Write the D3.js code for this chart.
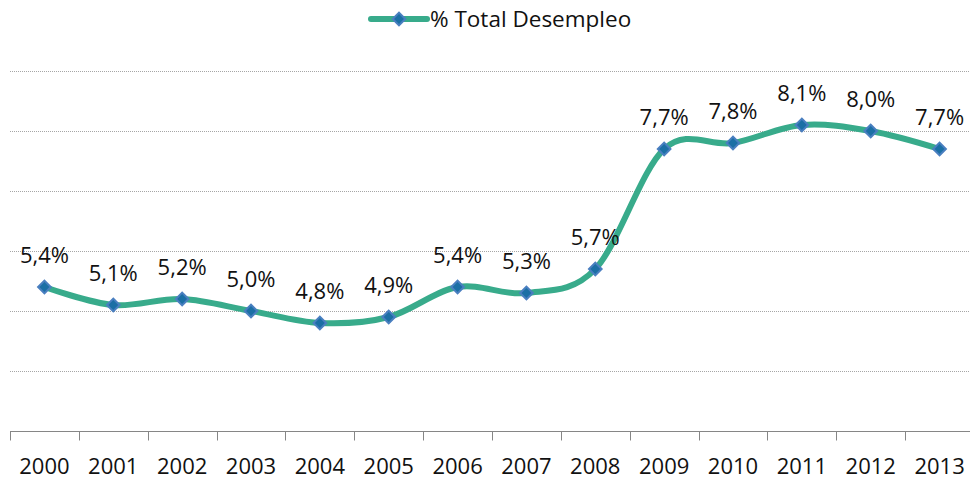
<!DOCTYPE html>
<html>
<head>
<meta charset="utf-8">
<script src="https://cdn.jsdelivr.net/npm/d3@7"></script>
<style>
  body { margin: 0; background: #fff; }
  text { font-family: "Open Sans", "Noto Sans", sans-serif; fill: #111; }
</style>
</head>
<body>
<div id="chart"></div>
<script>
const years = ['2000', '2001', '2002', '2003', '2004', '2005', '2006', '2007', '2008', '2009', '2010', '2011', '2012', '2013'];
const desempleo = [5.4, 5.1, 5.2, 5.0, 4.8, 4.9, 5.4, 5.3, 5.7, 7.7, 7.8, 8.1, 8.0, 7.7];
const gridTicks = [3, 4, 5, 6, 7, 8, 9];
const seriesName = '% Total Desempleo';

const width = 970, height = 479;
const margin = { top: 71, right: -4, bottom: 48, left: 10 };
const lineColor = '#38ab8b', markerFill = '#1b6fa5', markerStroke = '#4a7fc0';

const svg = d3.select('#chart').append('svg')
  .attr('width', width)
  .attr('height', height);

const x = d3.scaleBand()
  .domain(years)
  .range([margin.left, width - margin.right]);

const y = d3.scaleLinear()
  .domain([3, 9])
  .range([height - margin.bottom, margin.top]);

// gridlines
svg.append('g')
  .selectAll('line')
  .data(gridTicks.filter(d => d > 3))
  .enter().append('line')
  .attr('x1', margin.left)
  .attr('x2', width)
  .attr('y1', d => Math.round(y(d)) + 0.5)
  .attr('y2', d => Math.round(y(d)) + 0.5)
  .attr('stroke', '#a6a6a6')
  .attr('stroke-width', 1)
  .attr('stroke-dasharray', '1,1');

// x axis
const xAxis = svg.append('g')
  .attr('transform', `translate(0,${Math.round(y(3)) + 0.5})`);
xAxis.append('line')
  .attr('x1', margin.left).attr('x2', width)
  .attr('stroke', '#868686');
xAxis.selectAll('.tick')
  .data(years)
  .enter().append('line')
  .attr('x1', d => Math.round(x(d)) + 0.5)
  .attr('x2', d => Math.round(x(d)) + 0.5)
  .attr('y1', 0).attr('y2', 9)
  .attr('stroke', '#868686');
xAxis.selectAll('text')
  .data(years)
  .enter().append('text')
  .attr('x', d => x(d) + x.bandwidth() / 2)
  .attr('y', 42)
  .attr('text-anchor', 'middle')
  .style('font-size', '22px')
  .text(d => d);

const data = years.map((yr, i) => ({ year: yr, value: desempleo[i] }));
const cx = d => x(d.year) + x.bandwidth() / 2;

const line = d3.line()
  .x(cx)
  .y(d => y(d.value))
  .curve(d3.curveCardinal.tension(0));

svg.append('path')
  .datum(data)
  .attr('fill', 'none')
  .attr('stroke', lineColor)
  .attr('stroke-width', 6)
  .attr('stroke-linecap', 'round')
  .attr('d', line);

const diamond = d3.symbol().type(d3.symbolSquare).size(80);

svg.selectAll('.dot')
  .data(data)
  .enter().append('path')
  .attr('class', 'dot')
  .attr('transform', d => `translate(${cx(d)},${y(d.value)}) rotate(45)`)
  .attr('d', diamond)
  .attr('fill', markerFill)
  .attr('stroke', markerStroke)
  .attr('stroke-width', 2);

const fmt = v => v.toFixed(1).replace('.', ',') + '%';

svg.selectAll('.lbl')
  .data(data)
  .enter().append('text')
  .attr('class', 'lbl')
  .attr('x', cx)
  .attr('y', d => y(d.value) - 24)
  .attr('text-anchor', 'middle')
  .style('font-size', '22px')
  .text(d => fmt(d.value));

// legend
const legend = svg.append('g').attr('transform', 'translate(371,19)');
legend.append('line')
  .attr('x1', 0).attr('x2', 56)
  .attr('stroke', lineColor)
  .attr('stroke-width', 6)
  .attr('stroke-linecap', 'round');
legend.append('path')
  .attr('transform', 'translate(28,0) rotate(45)')
  .attr('d', diamond)
  .attr('fill', markerFill)
  .attr('stroke', markerStroke)
  .attr('stroke-width', 2);
legend.append('text')
  .attr('x', 59)
  .attr('y', 8)
  .style('font-size', '22.5px')
  .text(seriesName);
</script>
</body>
</html>
